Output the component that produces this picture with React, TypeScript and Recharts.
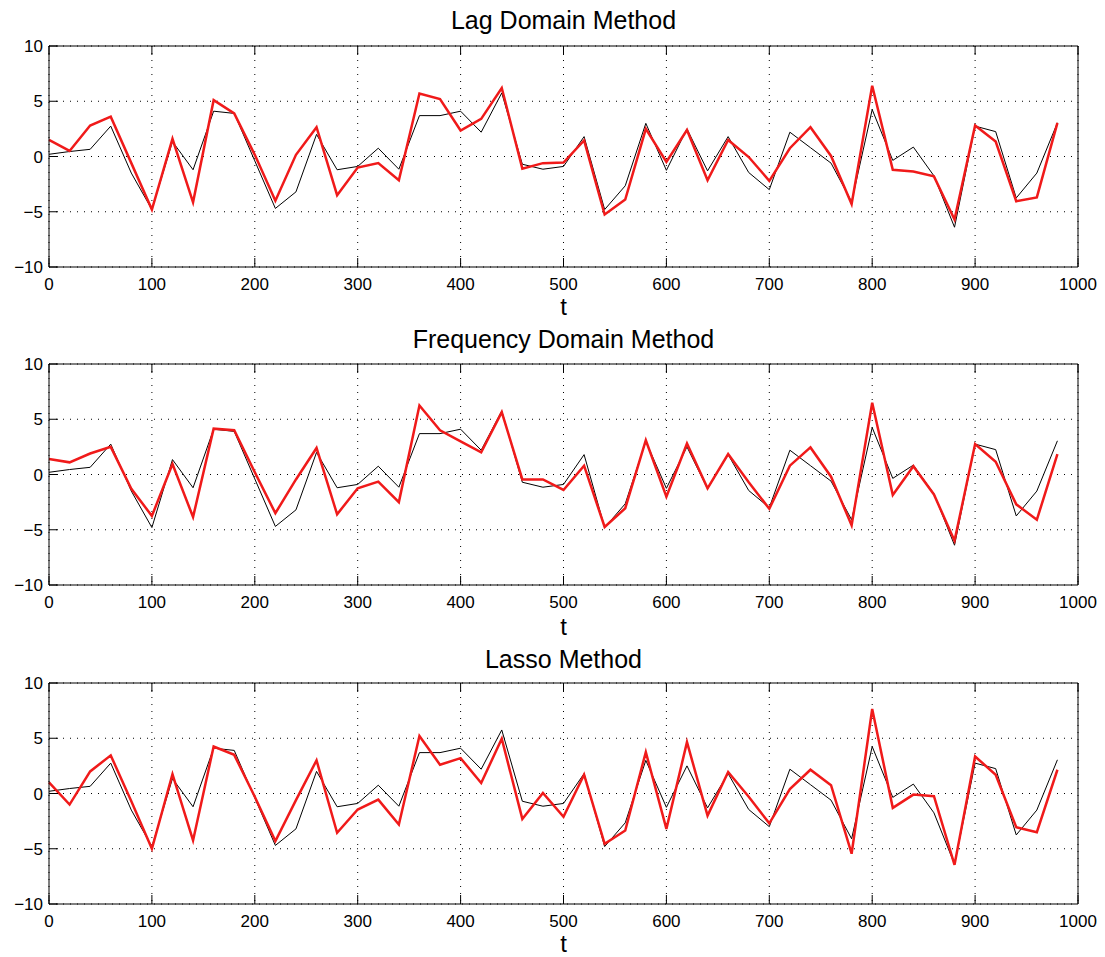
import { CartesianGrid, Line, LineChart, XAxis, YAxis } from "recharts";

const FONT = '"Liberation Sans", Arial, Helvetica, sans-serif';
const RED = "#f01a1a";

const T = [
  0, 20, 40, 60, 80, 100, 120, 140, 160, 180, 200, 220, 240, 260, 280, 300, 320, 340, 360, 380, 400, 420, 440,
  460, 480, 500, 520, 540, 560, 580, 600, 620, 640, 660, 680, 700, 720, 740, 760, 780, 800, 820, 840, 860, 880,
  900, 920, 940, 960, 980,
];

// true signal (black)
const ACTUAL = [
  0.2, 0.45, 0.65, 2.75, -1.5, -4.8, 1.35, -1.2, 4.1, 3.9, -0.4, -4.7, -3.2, 2.0, -1.2, -0.9, 0.75, -1.15, 3.7, 3.7,
  4.1, 2.2, 5.75, -0.7, -1.15, -0.9, 1.8, -4.8, -2.65, 3.0, -1.25, 2.5, -1.3, 1.8, -1.45, -3.0, 2.2, 0.8, -0.6, -4.1,
  4.25, -0.35, 0.85, -1.75, -6.4, 2.75, 2.25, -3.75, -1.5, 3.05,
];

const LAG = [
  1.5, 0.5, 2.8, 3.6, -0.6, -4.8, 1.6, -4.15, 5.1, 3.9, 0.15, -4.0, 0.15, 2.65, -3.5, -1.0, -0.6, -2.15, 5.7, 5.2,
  2.35, 3.4, 6.2, -1.1, -0.6, -0.55, 1.45, -5.25, -3.9, 2.5, -0.5, 2.4, -2.15, 1.5, -0.05, -2.2, 0.75, 2.65, 0.05,
  -4.3, 6.4, -1.2, -1.35, -1.8, -5.7, 2.8, 1.35, -4.05, -3.7, 3.05,
];

const FREQ = [
  1.4, 1.1, 1.9, 2.5, -1.3, -3.75, 0.95, -3.85, 4.15, 4.0, 0.2, -3.5, -0.45, 2.4, -3.6, -1.25, -0.65, -2.5, 6.25,
  4.0, 3.0, 2.0, 5.65, -0.45, -0.45, -1.4, 0.8, -4.75, -3.05, 3.1, -2.0, 2.8, -1.25, 1.85, -0.7, -3.1, 0.8, 2.45,
  -0.2, -4.6, 6.5, -1.85, 0.75, -1.8, -6.0, 2.75, 1.15, -2.7, -4.1, 1.85,
];

const LASSO = [
  1.0, -1.0, 2.0, 3.45, -0.7, -5.0, 1.75, -4.25, 4.25, 3.5, -0.3, -4.3, -0.6, 3.0, -3.55, -1.45, -0.55, -2.8, 5.2,
  2.6, 3.2, 0.95, 4.95, -2.3, 0.05, -2.1, 1.7, -4.55, -3.35, 3.75, -3.2, 4.65, -2.0, 1.95, -0.3, -2.7, 0.4, 2.15,
  0.75, -5.45, 7.65, -1.3, -0.1, -0.25, -6.45, 3.35, 1.7, -3.05, -3.5, 2.15,
];

const X_TICKS = [0, 100, 200, 300, 400, 500, 600, 700, 800, 900, 1000];
const Y_TICKS = [-10, -5, 0, 5, 10];

const PANELS = [
  { title: "Lag Domain Method", est: LAG, top: 28, titleY: 12, tY: 307 },
  { title: "Frequency Domain Method", est: FREQ, top: 346, titleY: 331, tY: 627 },
  { title: "Lasso Method", est: LASSO, top: 665, titleY: 651, tY: 944 },
];

const TICK_LEN = 9;
const TICK_FONT = 17;

const fmt = (v: number) => (v < 0 ? "\u2212" + Math.abs(v) : String(v));

function BottomTick({ x, y, payload }: any) {
  return (
    <g>
      <line x1={x} x2={x} y1={y} y2={y - TICK_LEN} stroke="#000" />
      <text x={x} y={y + 23} textAnchor="middle" fontSize={TICK_FONT} fontFamily={FONT} fill="#000">
        {fmt(payload.value)}
      </text>
    </g>
  );
}

function TopTick({ x, y }: any) {
  return <line x1={x} x2={x} y1={y} y2={y + TICK_LEN} stroke="#000" />;
}

function LeftTick({ x, y, payload }: any) {
  return (
    <g>
      <line x1={x} x2={x + TICK_LEN} y1={y} y2={y} stroke="#000" />
      <text x={x - 6} y={y + 6} textAnchor="end" fontSize={TICK_FONT} fontFamily={FONT} fill="#000">
        {fmt(payload.value)}
      </text>
    </g>
  );
}

function RightTick({ x, y }: any) {
  return <line x1={x} x2={x - TICK_LEN} y1={y} y2={y} stroke="#000" />;
}

function Panel({ est }: { est: number[] }) {
  const rows = T.map((t, i) => ({ t, actual: ACTUAL[i], est: est[i] }));
  return (
    <LineChart width={1089} height={300} data={rows} margin={{ top: 9, right: 18, bottom: 40, left: 40 }}>
      <CartesianGrid stroke="#000" strokeDasharray="1 6" />
      <XAxis
        dataKey="t"
        type="number"
        domain={[0, 1000]}
        ticks={X_TICKS}
        interval={0}
        height={29}
        tickSize={0}
        tickMargin={0}
        tickLine={false}
        axisLine={{ stroke: "#000" }}
        tick={BottomTick}
      />
      <XAxis
        xAxisId="top"
        orientation="top"
        dataKey="t"
        type="number"
        domain={[0, 1000]}
        ticks={X_TICKS}
        interval={0}
        height={1}
        tickSize={0}
        tickMargin={0}
        tickLine={false}
        axisLine={{ stroke: "#000" }}
        tick={TopTick}
      />
      <YAxis
        type="number"
        domain={[-10, 10]}
        ticks={Y_TICKS}
        interval={0}
        width={1}
        tickSize={0}
        tickMargin={0}
        tickLine={false}
        axisLine={{ stroke: "#000" }}
        tick={LeftTick}
      />
      <YAxis
        yAxisId="right"
        orientation="right"
        type="number"
        domain={[-10, 10]}
        ticks={Y_TICKS}
        interval={0}
        width={1}
        tickSize={0}
        tickMargin={0}
        tickLine={false}
        axisLine={{ stroke: "#000" }}
        tick={RightTick}
      />
      <Line dataKey="actual" stroke="#000" strokeWidth={1} dot={false} isAnimationActive={false} />
      <Line dataKey="est" stroke={RED} strokeWidth={2.5} dot={false} isAnimationActive={false} />
    </LineChart>
  );
}

export default function App() {
  return (
    <div style={{ position: "relative", width: 1089, height: 949, fontFamily: FONT, background: "#fff" }}>
      {PANELS.map((p) => (
        <div key={p.title}>
          <div
            style={{
              position: "absolute",
              left: 41,
              width: 1029,
              top: p.titleY - 8 - 4,
              textAlign: "center",
              fontSize: 25,
              lineHeight: "25px",
              color: "#000",
            }}
          >
            {p.title}
          </div>
          <div style={{ position: "absolute", left: 0, top: p.top }}>
            <Panel est={p.est} />
          </div>
          <div
            style={{
              position: "absolute",
              left: 41,
              width: 1029,
              top: p.tY - 8 - 10,
              textAlign: "center",
              fontSize: 24,
              lineHeight: "20px",
              color: "#000",
            }}
          >
            t
          </div>
        </div>
      ))}
    </div>
  );
}
